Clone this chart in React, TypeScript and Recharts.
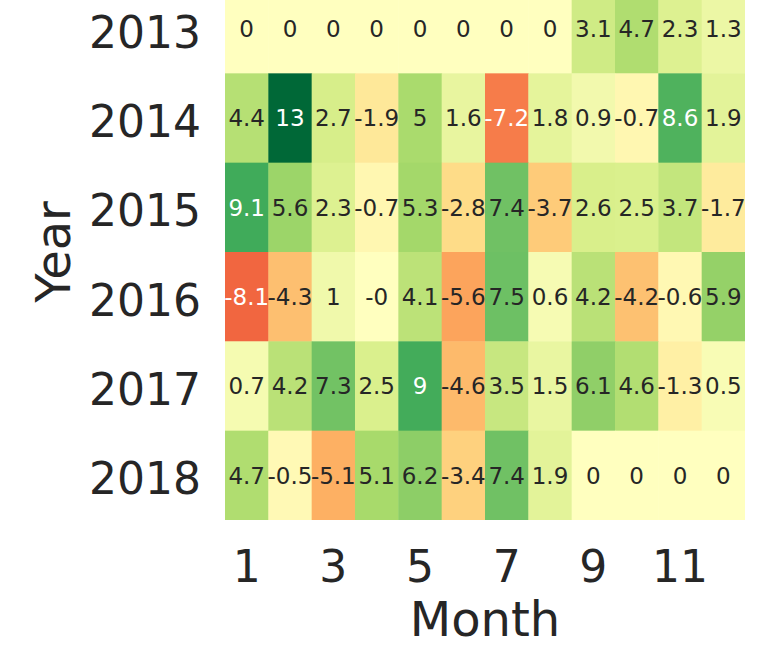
import React from 'react';
import { ScatterChart, Scatter, XAxis, YAxis } from 'recharts';

const years = [2013, 2014, 2015, 2016, 2017, 2018];
const months = [1, 2, 3, 4, 5, 6, 7, 8, 9, 10, 11, 12];
const monthTicks = [1, 3, 5, 7, 9, 11];

const v2013 = [0, 0, 0, 0, 0, 0, 0, 0, 3.1, 4.7, 2.3, 1.3];
const v2014 = [4.4, 13, 2.7, -1.9, 5, 1.6, -7.2, 1.8, 0.9, -0.7, 8.6, 1.9];
const v2015 = [9.1, 5.6, 2.3, -0.7, 5.3, -2.8, 7.4, -3.7, 2.6, 2.5, 3.7, -1.7];
const v2016 = [-8.1, -4.3, 1, -0, 4.1, -5.6, 7.5, 0.6, 4.2, -4.2, -0.6, 5.9];
const v2017 = [0.7, 4.2, 7.3, 2.5, 9, -4.6, 3.5, 1.5, 6.1, 4.6, -1.3, 0.5];
const v2018 = [4.7, -0.5, -5.1, 5.1, 6.2, -3.4, 7.4, 1.9, 0, 0, 0, 0];
const rows = [v2013, v2014, v2015, v2016, v2017, v2018];

const VMAX = 13;

const CHART_W = 781;
const CHART_H = 676;
const MARGIN = { top: 0, right: 36, bottom: 0, left: 0 };
const YAXIS_W = 225;
const XAXIS_H = 140;
const PLOT_W = CHART_W - MARGIN.left - MARGIN.right - YAXIS_W;
const PLOT_H = CHART_H - MARGIN.top - MARGIN.bottom - XAXIS_H;
const CELL_W = PLOT_W / months.length;
const CELL_H = PLOT_H / years.length;

const FONT = '"DejaVu Sans", sans-serif';
const DARK = '#262626';

const RDYLGN = [
  '#a50026', '#d73027', '#f46d43', '#fdae61', '#fee08b', '#ffffbf',
  '#d9ef8b', '#a6d96a', '#66bd63', '#1a9850', '#006837',
];

function hexToRgb(h: string) {
  return [parseInt(h.slice(1, 3), 16), parseInt(h.slice(3, 5), 16), parseInt(h.slice(5, 7), 16)];
}

function colorFor(v: number): number[] {
  let t = (v + VMAX) / (2 * VMAX);
  t = Math.max(0, Math.min(1, t));
  const pos = t * (RDYLGN.length - 1);
  const i = Math.min(Math.floor(pos), RDYLGN.length - 2);
  const f = pos - i;
  const a = hexToRgb(RDYLGN[i]);
  const b = hexToRgb(RDYLGN[i + 1]);
  return a.map((c, k) => Math.round(c + (b[k] - c) * f));
}

function rgbStr(c: number[]) {
  return `rgb(${c[0]},${c[1]},${c[2]})`;
}

function luminance(c: number[]) {
  const lin = c.map((x) => {
    const s = x / 255;
    return s <= 0.03928 ? s / 12.92 : Math.pow((s + 0.055) / 1.055, 2.4);
  });
  return 0.2126 * lin[0] + 0.7152 * lin[1] + 0.0722 * lin[2];
}

function fmt(v: number) {
  if (Object.is(v, -0)) return '-0';
  return String(v);
}

const data = years.flatMap((year, r) =>
  months.map((month, c) => ({ year, month, value: rows[r][c] }))
);

const CellShape = (props: any) => {
  const { cx, cy, payload } = props;
  if (cx == null || cy == null) return null;
  const col = colorFor(payload.value);
  return (
    <rect
      x={cx - CELL_W / 2}
      y={cy - CELL_H / 2}
      width={CELL_W + 0.5}
      height={CELL_H + 0.5}
      fill={rgbStr(col)}
      stroke="none"
    />
  );
};

const TextShape = (props: any) => {
  const { cx, cy, payload } = props;
  if (cx == null || cy == null) return null;
  const col = colorFor(payload.value);
  const fill = luminance(col) > 0.408 ? DARK : '#ffffff';
  return (
    <text
      x={cx}
      y={cy + 8.4}
      textAnchor="middle"
      fontSize={23}
      fontFamily={FONT}
      fill={fill}
    >
      {fmt(payload.value)}
    </text>
  );
};

const XTick = (props: any) => {
  const { x, y, payload } = props;
  return (
    <text x={x} y={y + 62} textAnchor="middle" fontSize={44} fontFamily={FONT} fill={DARK}>
      {payload.value}
    </text>
  );
};

const YTick = (props: any) => {
  const { x, y, payload } = props;
  return (
    <text x={x - 24} y={y + 19} textAnchor="end" fontSize={44} fontFamily={FONT} fill={DARK}>
      {payload.value}
    </text>
  );
};

const XLabel = (props: any) => {
  const vb = props.viewBox || {};
  return (
    <text
      x={vb.x + vb.width / 2}
      y={vb.y + 116}
      textAnchor="middle"
      fontSize={48}
      fontFamily={FONT}
      fill={DARK}
    >
      Month
    </text>
  );
};

const YLabel = (props: any) => {
  const vb = props.viewBox || {};
  const x = vb.x + 70;
  const y = vb.y + vb.height / 2;
  return (
    <text
      x={x}
      y={y}
      transform={`rotate(-90, ${x}, ${y})`}
      textAnchor="middle"
      fontSize={48}
      fontFamily={FONT}
      fill={DARK}
    >
      Year
    </text>
  );
};

export default function App() {
  return (
    <div style={{ position: 'absolute', left: 0, top: -16, width: CHART_W, height: CHART_H }}>
      <ScatterChart width={CHART_W} height={CHART_H} margin={MARGIN}>
        <XAxis
          type="number"
          dataKey="month"
          domain={[0.5, 12.5]}
          ticks={monthTicks}
          axisLine={false}
          tickLine={false}
          tickSize={0}
          tickMargin={0}
          height={XAXIS_H}
          tick={<XTick />}
          interval={0}
          allowDataOverflow
          label={<XLabel />}
        />
        <YAxis
          type="number"
          dataKey="year"
          domain={[2012.5, 2018.5]}
          ticks={years}
          reversed
          axisLine={false}
          tickLine={false}
          tickSize={0}
          tickMargin={0}
          width={YAXIS_W}
          tick={<YTick />}
          interval={0}
          allowDataOverflow
          label={<YLabel />}
        />
        <Scatter data={data} shape={<CellShape />} isAnimationActive={false} />
        <Scatter data={data} shape={<TextShape />} isAnimationActive={false} />
      </ScatterChart>
    </div>
  );
}
